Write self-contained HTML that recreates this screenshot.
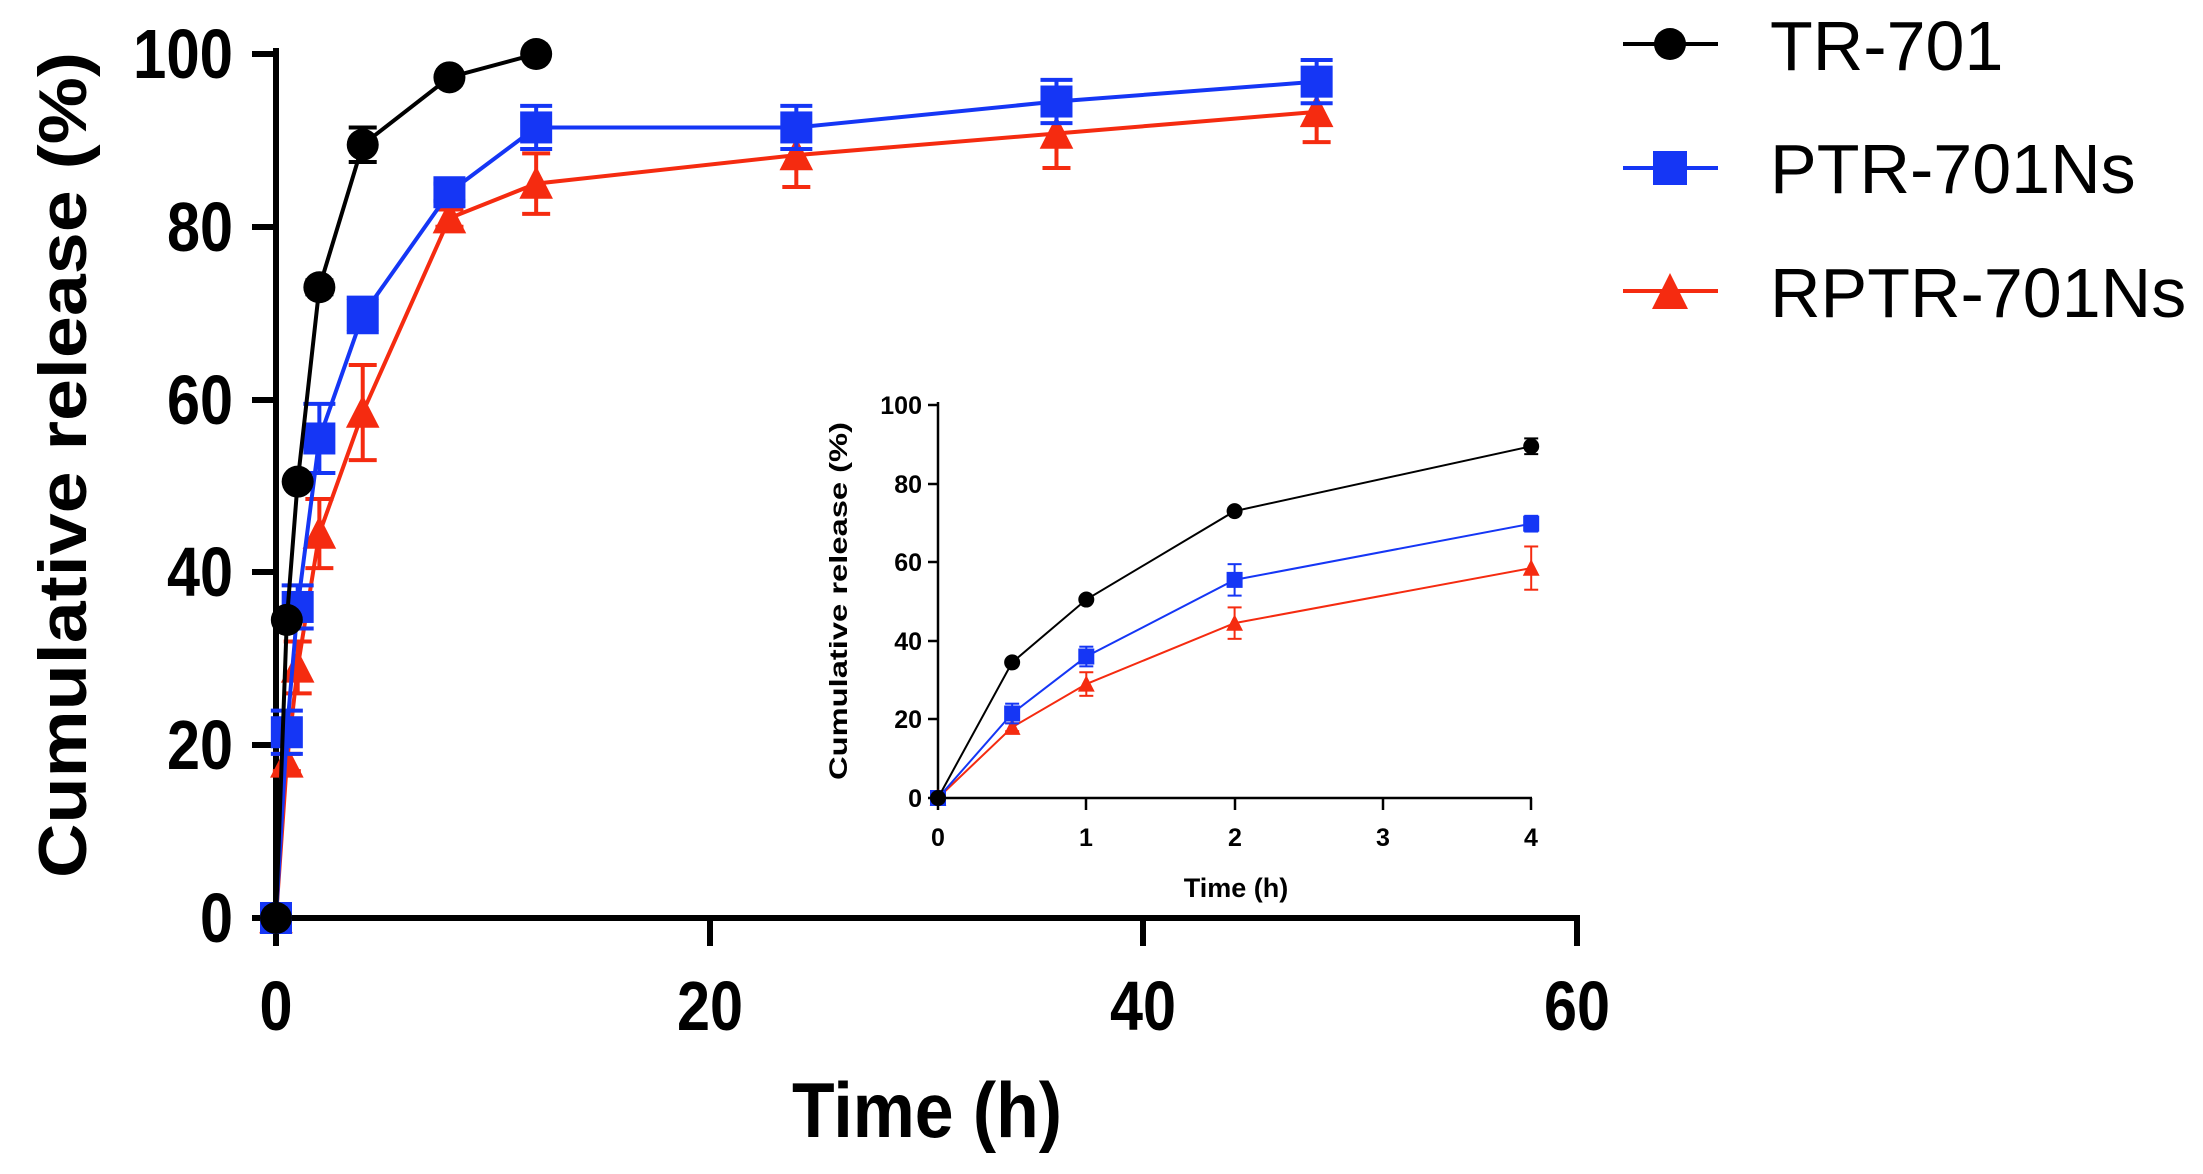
<!DOCTYPE html>
<html><head><meta charset="utf-8"><style>
html,body{margin:0;padding:0;background:#fff}
svg{display:block}
text{font-family:"Liberation Sans",Arial,sans-serif}
</style></head><body>
<svg id="s" width="2203" height="1174" viewBox="0 0 2203 1174" xmlns="http://www.w3.org/2000/svg">
<rect width="2203" height="1174" fill="#fff"/>
<g stroke="#000" stroke-width="6" fill="none">
<line x1="276" y1="48" x2="276" y2="921"/>
<line x1="273" y1="918" x2="1580" y2="918"/>
<line x1="252" y1="54" x2="276" y2="54"/>
<line x1="252" y1="227" x2="276" y2="227"/>
<line x1="252" y1="400" x2="276" y2="400"/>
<line x1="252" y1="572" x2="276" y2="572"/>
<line x1="252" y1="745" x2="276" y2="745"/>
<line x1="252" y1="918" x2="276" y2="918"/>
<line x1="276" y1="918" x2="276" y2="946"/>
<line x1="710" y1="918" x2="710" y2="946"/>
<line x1="1143" y1="918" x2="1143" y2="946"/>
<line x1="1577" y1="918" x2="1577" y2="946"/>
</g>
<g font-size="70" font-weight="bold" text-anchor="end">
<text x="233" y="78" textLength="100" lengthAdjust="spacingAndGlyphs">100</text>
<text x="233" y="251" textLength="66" lengthAdjust="spacingAndGlyphs">80</text>
<text x="233" y="424" textLength="66" lengthAdjust="spacingAndGlyphs">60</text>
<text x="233" y="596" textLength="66" lengthAdjust="spacingAndGlyphs">40</text>
<text x="233" y="769" textLength="66" lengthAdjust="spacingAndGlyphs">20</text>
<text x="233" y="942" textLength="33" lengthAdjust="spacingAndGlyphs">0</text>
</g>
<g font-size="70" font-weight="bold" text-anchor="middle">
<text x="276" y="1030" textLength="33" lengthAdjust="spacingAndGlyphs">0</text>
<text x="710" y="1030" textLength="66" lengthAdjust="spacingAndGlyphs">20</text>
<text x="1143" y="1030" textLength="66" lengthAdjust="spacingAndGlyphs">40</text>
<text x="1577" y="1030" textLength="66" lengthAdjust="spacingAndGlyphs">60</text>
</g>
<text x="927" y="1137" font-size="78" font-weight="bold" text-anchor="middle" textLength="270" lengthAdjust="spacingAndGlyphs">Time (h)</text>
<text transform="translate(86,465) rotate(-90)" font-size="68" font-weight="bold" text-anchor="middle" textLength="826" lengthAdjust="spacingAndGlyphs">Cumulative release (%)</text>
<g stroke="#000" stroke-width="2.5" fill="none">
<line x1="938" y1="402" x2="938" y2="799"/>
<line x1="937" y1="798" x2="1532" y2="798"/>
<line x1="928" y1="405" x2="938" y2="405"/><line x1="928" y1="484" x2="938" y2="484"/>
<line x1="928" y1="562" x2="938" y2="562"/><line x1="928" y1="641" x2="938" y2="641"/>
<line x1="928" y1="719" x2="938" y2="719"/><line x1="928" y1="798" x2="938" y2="798"/>
<line x1="938" y1="798" x2="938" y2="810"/><line x1="1086" y1="798" x2="1086" y2="810"/>
<line x1="1235" y1="798" x2="1235" y2="810"/><line x1="1383" y1="798" x2="1383" y2="810"/>
<line x1="1531" y1="798" x2="1531" y2="810"/>
</g>
<g font-size="25" font-weight="bold" text-anchor="end">
<text x="922" y="414">100</text><text x="922" y="493">80</text><text x="922" y="571">60</text>
<text x="922" y="650">40</text><text x="922" y="728">20</text><text x="922" y="807">0</text>
</g>
<g font-size="25" font-weight="bold" text-anchor="middle">
<text x="938" y="846">0</text><text x="1086" y="846">1</text><text x="1235" y="846">2</text>
<text x="1383" y="846">3</text><text x="1531" y="846">4</text>
</g>
<text x="1236" y="897" font-size="27" font-weight="bold" text-anchor="middle">Time (h)</text>
<text transform="translate(847,601) rotate(-90)" font-size="25" font-weight="bold" text-anchor="middle" textLength="358" lengthAdjust="spacingAndGlyphs">Cumulative release (%)</text>
<line x1="1623" y1="44" x2="1718" y2="44" stroke="#000" stroke-width="4"/>
<circle cx="1670" cy="44" r="16" fill="#000"/>
<line x1="1623" y1="168" x2="1718" y2="168" stroke="#1536f5" stroke-width="4"/>
<rect x="1653" y="151" width="34" height="34" fill="#1536f5"/>
<line x1="1623" y1="291" x2="1718" y2="291" stroke="#f52b10" stroke-width="4"/>
<polygon points="1670,273 1688,309 1652,309" fill="#f52b10"/>
<g font-size="70">
<text x="1770" y="70">TR-701</text>
<text x="1770" y="193">PTR-701Ns</text>
<text x="1770" y="317">RPTR-701Ns</text>
</g>
<g id="d"></g>
</svg>
<script>
const NS="http://www.w3.org/2000/svg",g=document.getElementById('d');
function el(n,a){const e=document.createElementNS(NS,n);for(const k in a)e.setAttribute(k,a[k]);g.appendChild(e);return e;}
const TR=[[0,0,0],[0.5,34.5,0],[1,50.5,0],[2,73,0.8],[4,89.5,2],[8,97.3,0],[12,100,0]];
const PT=[[0,0,0],[0.5,21.5,2.5],[1,36,2.5],[2,55.5,4],[4,69.8,2],[8,84,1],[12,91.5,2.5],[24,91.5,2.5],[36,94.5,2.5],[48,96.8,2.5]];
const RP=[[0,0,0],[0.5,18,1],[1,29,3],[2,44.5,4],[4,58.5,5.5],[8,81,1],[12,85,3.5],[24,88.3,3.7],[36,90.8,4],[48,93.3,3.5]];
function draw(data,col,mk,X,Y,lw,s,ew,cap,maxT){
 const d=data.filter(p=>p[0]<=maxT);
 el('polyline',{points:d.map(p=>X(p[0])+','+Y(p[1])).join(' '),fill:'none',stroke:col,'stroke-width':lw});
 d.forEach(p=>{const x=X(p[0]),y=Y(p[1]);
  if(p[2]>0){const y1=Y(p[1]+p[2]),y2=Y(p[1]-p[2]);
   el('line',{x1:x,y1:y1,x2:x,y2:y2,stroke:col,'stroke-width':ew});
   el('line',{x1:x-cap,y1:y1,x2:x+cap,y2:y1,stroke:col,'stroke-width':ew});
   el('line',{x1:x-cap,y1:y2,x2:x+cap,y2:y2,stroke:col,'stroke-width':ew});}
  if(mk=='c')el('circle',{cx:x,cy:y,r:s,fill:col});
  else if(mk=='s')el('rect',{x:x-s,y:y-s,width:2*s,height:2*s,fill:col});
  else el('polygon',{points:`${x},${y-s*1.1} ${x+s*1.05},${y+s*0.95} ${x-s*1.05},${y+s*0.95}`,fill:col});
 });
}
const MX=t=>276+t*21.68,MY=v=>918-v*8.64;
draw(RP,'#f52b10','t',MX,MY,4,16,4,14,99);
draw(PT,'#1536f5','s',MX,MY,4,16,4,16,99);
draw(TR,'#000','c',MX,MY,4,16,4,14,99);
const IX=t=>938+t*148.3,IY=v=>798-v*3.93;
draw(RP,'#f52b10','t',IX,IY,2,8,2,7,4);
draw(PT,'#1536f5','s',IX,IY,2,8,2,7,4);
draw(TR,'#000','c',IX,IY,2,8,2,7,4);
</script>
</body></html>
